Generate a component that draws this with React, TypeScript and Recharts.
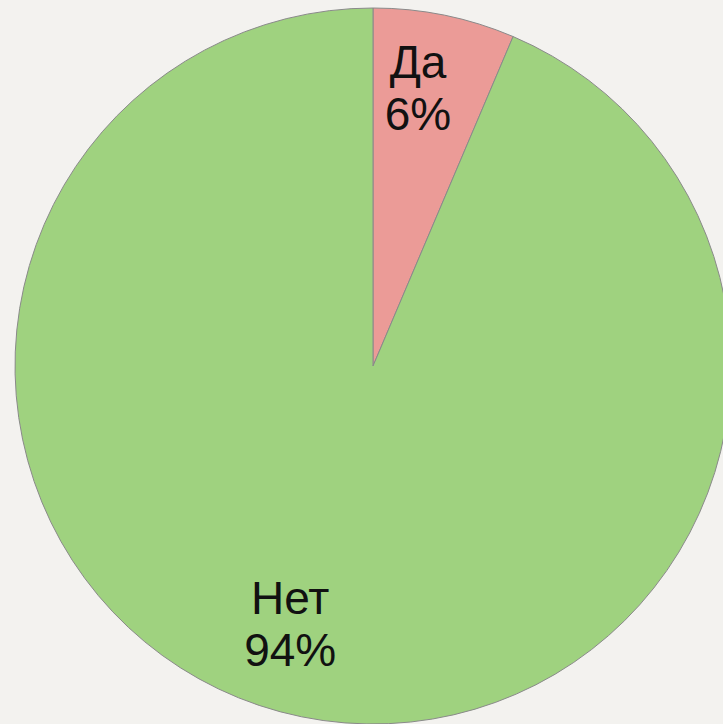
import React from 'react';
import { PieChart, Pie, Cell } from 'recharts';

const categories = ['Да', 'Нет'];
const values = [6.4, 93.6];
const percentLabels = ['6%', '94%'];
const colors = ['#eb9b97', '#9fd27f'];

const data = categories.map((name, i) => ({ name, value: values[i] }));

const RAD = Math.PI / 180;
const labelPlacement = [
  { r: 284, dAngle: 2.4 },
  { r: 269, dAngle: -6.4 },
];

const renderLabel = (props: any) => {
  const { cx, cy, midAngle, index } = props;
  const p = labelPlacement[index];
  const a = (midAngle + p.dAngle) * RAD;
  const x = cx + p.r * Math.cos(a);
  const y = cy - p.r * Math.sin(a);
  return (
    <text
      x={x}
      y={y}
      textAnchor="middle"
      fill="#111"
      fontFamily="'Liberation Sans', Arial, sans-serif"
      fontSize={46}
    >
      <tspan x={x} y={y - 8}>{categories[index]}</tspan>
      <tspan x={x} y={y + 44}>{percentLabels[index]}</tspan>
    </text>
  );
};

export default function App() {
  return (
    <div
      style={{
        position: 'absolute',
        left: 0,
        top: 0,
        width: 723,
        height: 724,
        background: '#f3f2ef',
        overflow: 'hidden',
      }}
    >
      <PieChart width={723} height={724} margin={{ top: 0, right: 0, bottom: 0, left: 0 }}>
        <Pie
          data={data}
          dataKey="value"
          nameKey="name"
          cx={373}
          cy={366}
          outerRadius={358}
          startAngle={90}
          endAngle={-270}
          stroke="#8a8a8a"
          strokeWidth={1}
          label={renderLabel}
          labelLine={false}
          isAnimationActive={false}
        >
          {data.map((d, i) => (
            <Cell key={d.name} fill={colors[i]} />
          ))}
        </Pie>
      </PieChart>
    </div>
  );
}
